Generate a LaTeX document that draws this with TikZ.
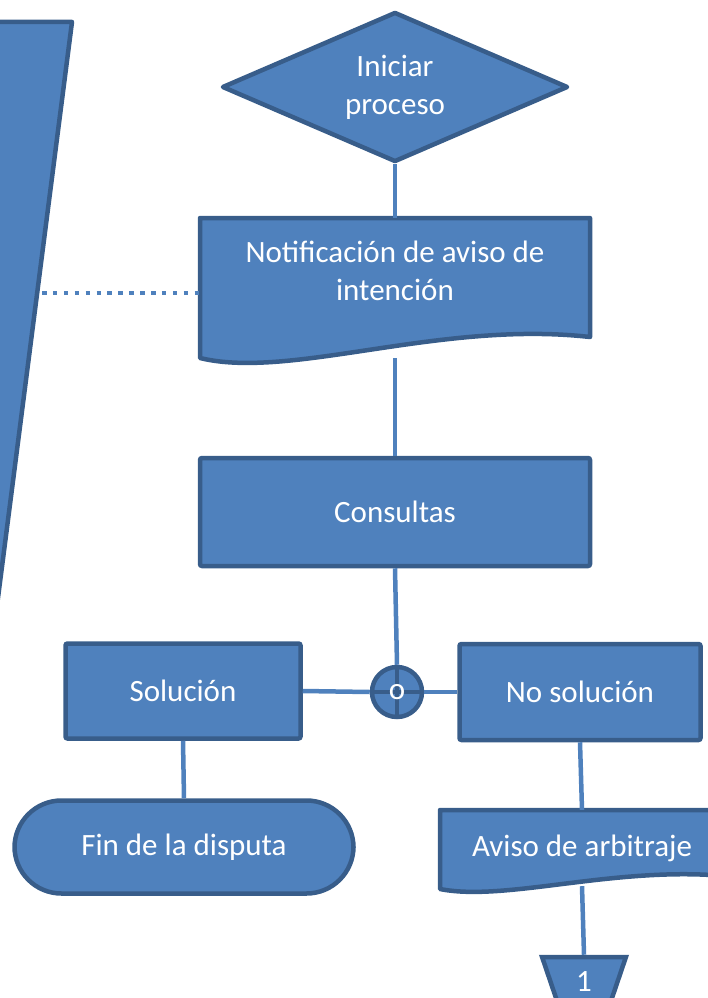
\documentclass[tikz,border=0pt]{standalone}
\usepackage{fontspec}
\setmainfont{Carlito}
\usetikzlibrary{shapes.geometric}

\definecolor{relleno}{HTML}{4F81BD}
\definecolor{borde}{HTML}{385D8A}

\tikzset{
  caja/.style={draw=borde,line width=4.5pt,fill=relleno,text=white,
    font=\fontsize{31}{38}\selectfont,align=center,inner sep=0pt,rounded corners=2pt},
  hueco/.style={inner sep=0pt,text=white,font=\fontsize{31}{38}\selectfont,align=center},
  forma/.style={draw=borde,line width=4.5pt,fill=relleno,line join=round},
  conector/.style={draw=relleno,line width=4.5pt}
}

\begin{document}
\begin{tikzpicture}[x=1pt,y=-1pt]
\useasboundingbox (0,0) rectangle (708,998);

% margen izquierdo
\draw [forma] (-200,22) -- (72,22) -- (-10,660) -- (-200,660) -- cycle;
\coordinate (margen) at (42,293);

% documentos con borde ondulado
\draw [forma] (200,218) -- (590,218) -- (590,337)
    .. controls (440,320) and (290,380) .. (200,358) -- cycle;
\draw [forma] (440,810) -- (725,810) -- (725,876)
    .. controls (614,866) and (505,902) .. (440,889) -- cycle;

\node [forma,diamond,aspect=2.3,minimum width=346,minimum height=150,
       hueco,draw=borde,fill=relleno] (inicio) at (395,87) {Iniciar\\ proceso};
\node [hueco,minimum width=390,minimum height=140] (notif) at (395,288)
    {Notificación de aviso de\\ intención\\[-4pt]};
\node [caja,minimum width=390,minimum height=108] (consultas) at (395,512) {Consultas};
\node [caja,circle,minimum size=50,
       path picture={\draw [borde,line width=4pt]
         (path picture bounding box.north) -- (path picture bounding box.south)
         (path picture bounding box.west) -- (path picture bounding box.east);}]
      (union) at (397,692) {o};
\node [caja,minimum width=235,minimum height=95] (solucion) at (183,691) {Solución};
\node [caja,minimum width=241,minimum height=96] (nosol) at (580,692) {No solución};
\node [caja,rounded corners=47pt,minimum width=339,minimum height=93] (fin)
      at (184,847) {Fin de la disputa};
\node [hueco,minimum width=280,minimum height=76] (arbitraje) at (582,848)
      {Aviso de arbitraje};
\node [caja,trapezium,shape border rotate=180,trapezium stretches=true,
       trapezium angle=75,rounded corners=0pt,minimum width=84,minimum height=50]
      (pagina) at (584,982) {1};

\draw [conector] (inicio.south) -- (notif.north);
\draw [conector] (notif.south) -- (consultas.north);
\draw [conector] (consultas.south) -- (union.north);
\draw [conector] (solucion.east) -- (union.west);
\draw [conector] (union.east) -- (nosol.west);
\draw [conector] (solucion.south) -- (fin.north);
\draw [conector] (nosol.south) -- (arbitraje.north);
\draw [conector] (arbitraje.south) -- (pagina.north);
\draw [conector,dash pattern=on 4.5pt off 6.4pt] (margen) -- (margen -| notif.west);
\end{tikzpicture}
\end{document}
